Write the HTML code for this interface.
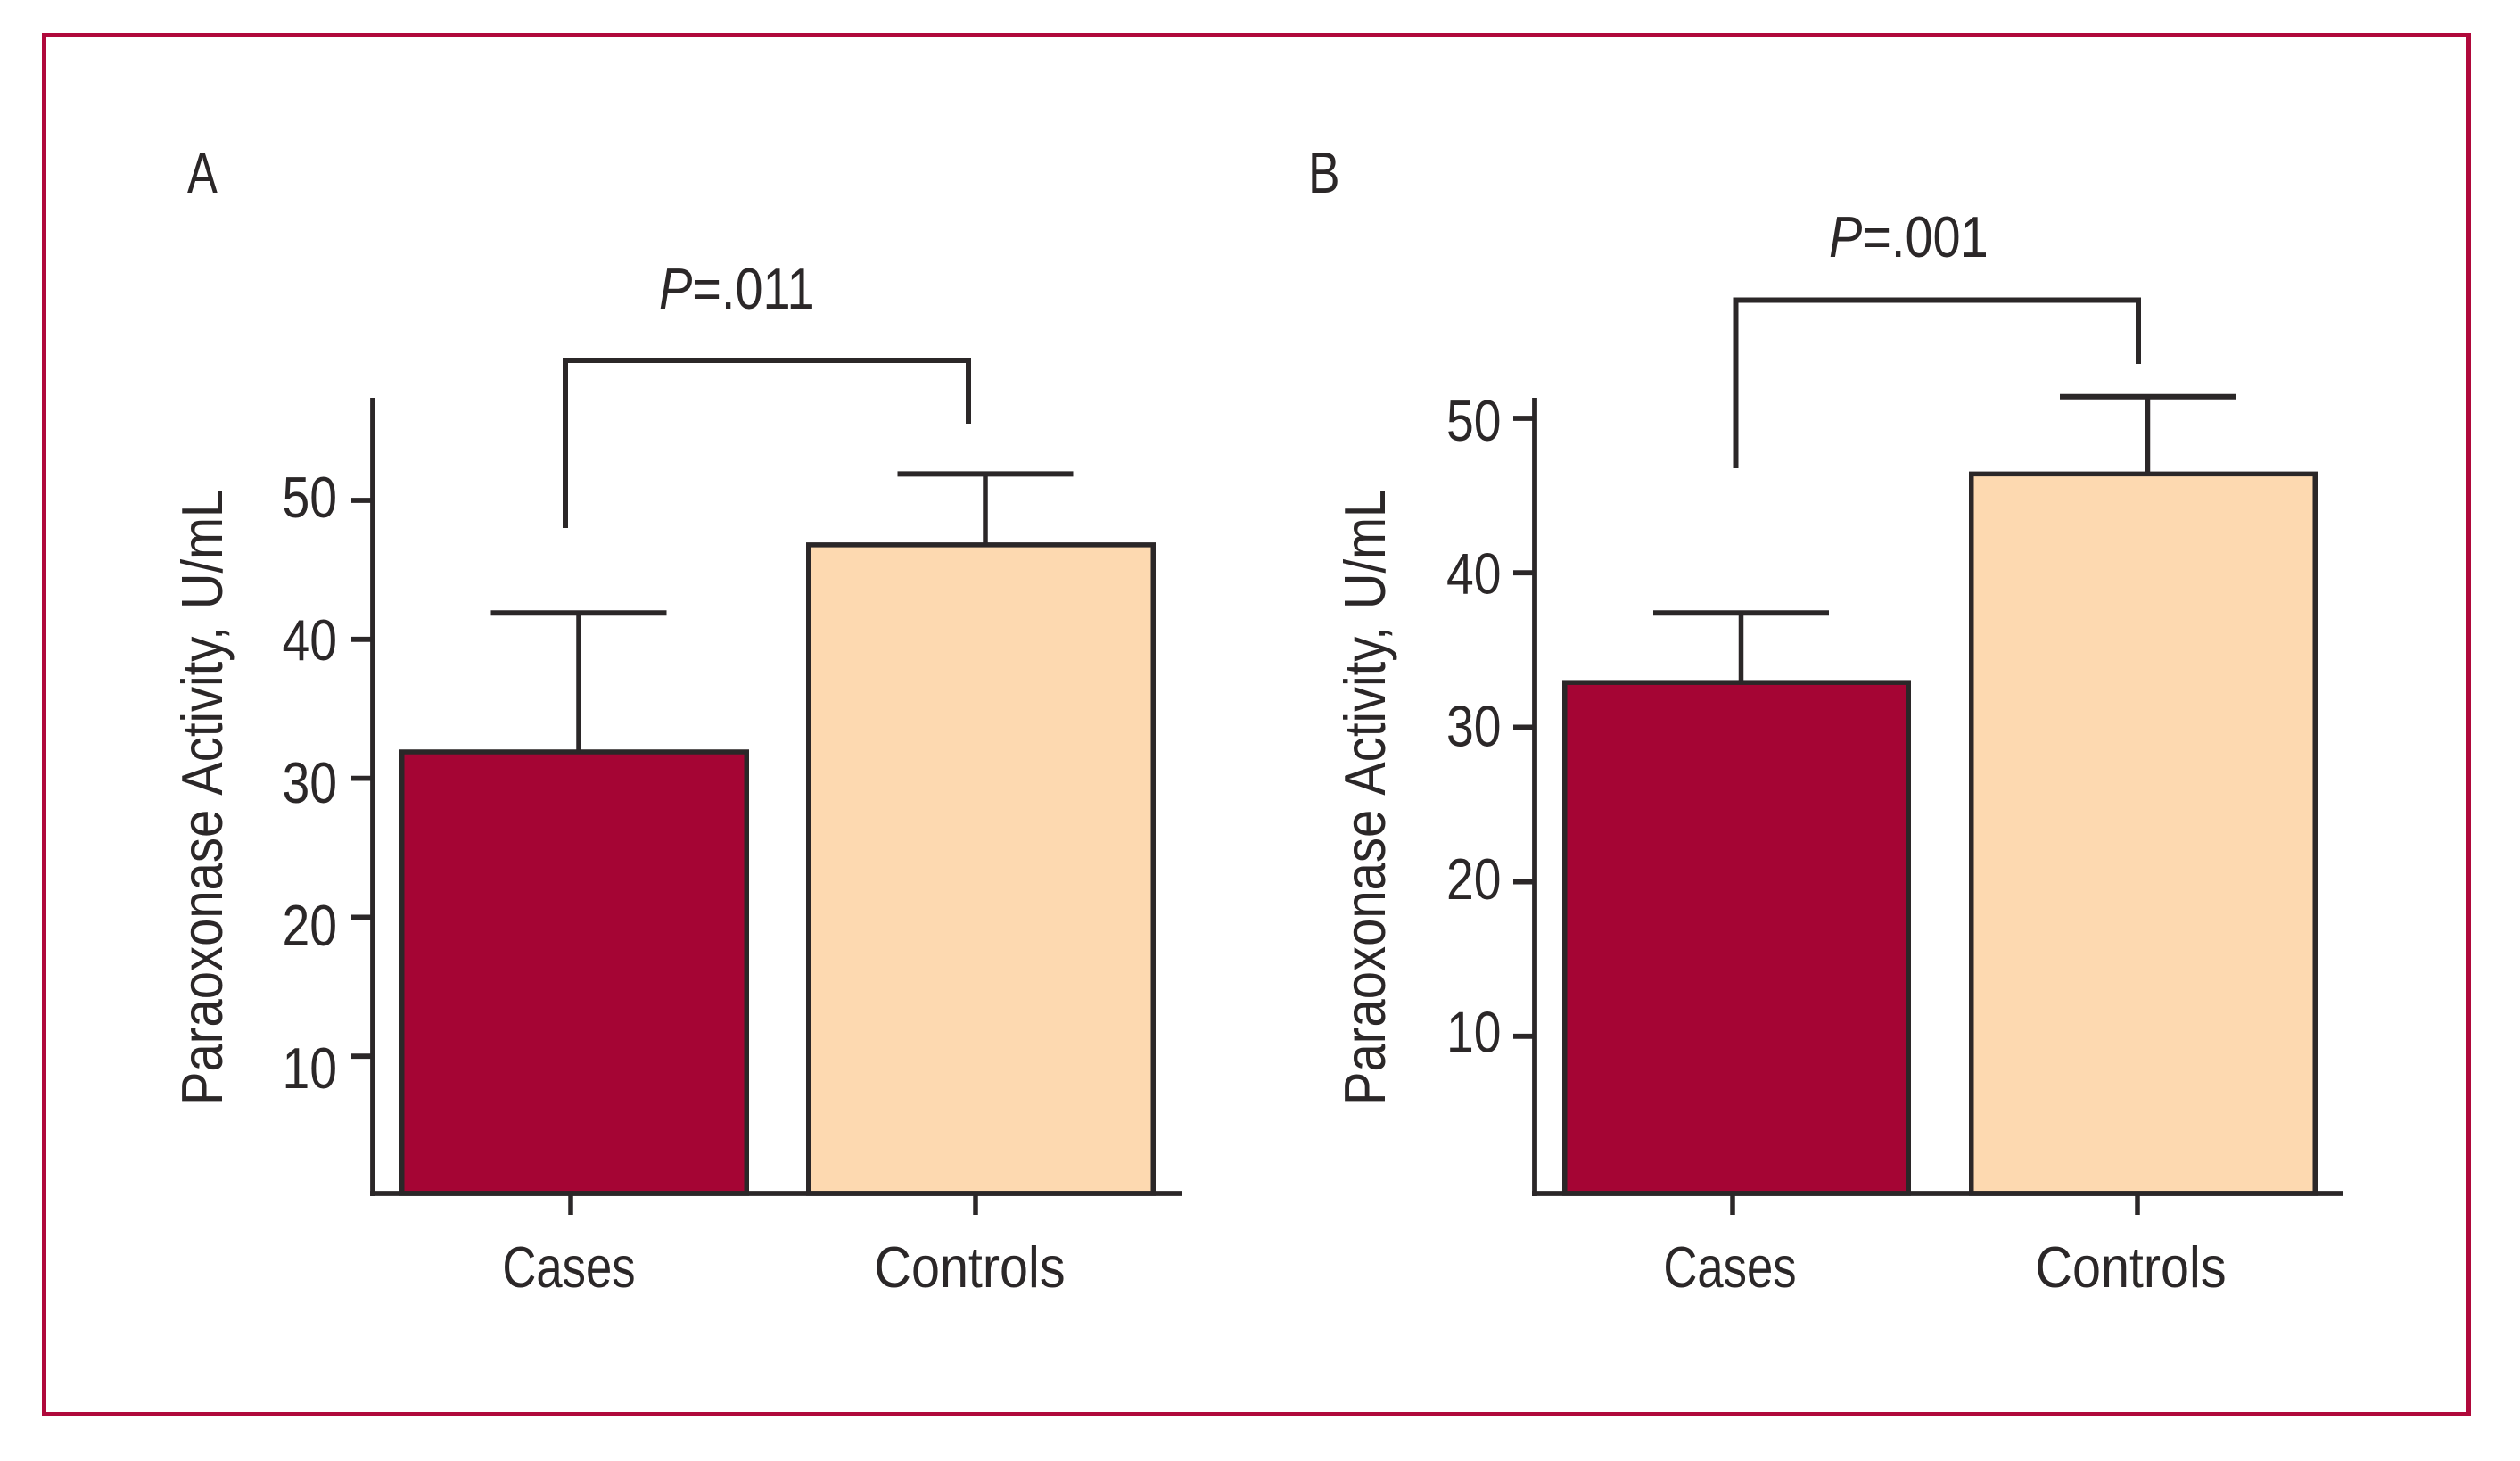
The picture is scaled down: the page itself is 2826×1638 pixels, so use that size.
<!DOCTYPE html>
<html lang="en">
<head>
<meta charset="utf-8">
<title>Paraoxonase Activity in Cases and Controls</title>
<style>
  html, body { margin: 0; padding: 0; background: #fff; }
  svg { display: block; }
  text { font-family: "Liberation Sans", sans-serif; font-size: 65px; fill: #2b2728; }
</style>
</head>
<body>
<svg id="figure" xmlns="http://www.w3.org/2000/svg" width="2826" height="1638" viewBox="0 0 2826 1638">
  <rect x="0" y="0" width="2826" height="1638" fill="#ffffff"/>
  <rect x="49.5" y="39.5" width="2719" height="1546" fill="none" stroke="#b0093b" stroke-width="5"/>

  <text transform="translate(210 216) scale(0.78 1)">A</text>
  <text transform="translate(1467 216) scale(0.82 1)">B</text>

  <path d="M634 592V404H1086V475" fill="none" stroke="#2b2728" stroke-width="6"/>
  <path d="M1946.5 525V336.5H2398V408" fill="none" stroke="#2b2728" stroke-width="6"/>

  <text transform="translate(739 346) scale(0.86 1)"><tspan font-style="italic">P</tspan>=.011</text>
  <text transform="translate(2051 288) scale(0.86 1)"><tspan font-style="italic">P</tspan>=.001</text>

  <g id="panel-a"></g>
  <g id="panel-b"></g>
</svg>

<script>
const categories = ["Cases", "Controls"];
const tickValues = [10, 20, 30, 40, 50];
const tickLabels = ["10", "20", "30", "40", "50"];
const yAxisTitle = "Paraoxonase Activity, U/mL";

const panelAMeans = [31.9, 46.8];
const panelAUpperErrors = [41.9, 51.9];
const panelBMeans = [32.9, 46.4];
const panelBUpperErrors = [37.4, 51.4];

const SVG_NS = "http://www.w3.org/2000/svg";
const INK = "#2b2728";
const BAR_COLORS = { Cases: "#a50534", Controls: "#fdd9b0" };
const LABEL_CONDENSE = { Cases: 0.81, Controls: 0.885 };

function svgEl(parent, tag, attrs) {
  const el = document.createElementNS(SVG_NS, tag);
  for (const key in attrs) el.setAttribute(key, attrs[key]);
  parent.appendChild(el);
  return el;
}

function drawPanel(rootId, prefix, means, errors, layout) {
  const root = document.getElementById(rootId);
  const yScale = v => layout.zeroY - layout.unitPx * v;
  const labelBaseline = v => layout.labelZeroY - layout.labelUnitPx * v;

  // bars
  categories.forEach((cat, i) => {
    const outerLeft = layout.barLeft + i * layout.barStep;
    const top = yScale(means[i]);
    const inset = 2.75;

    const stem = svgEl(root, "line", {
      x1: outerLeft + layout.barWidth / 2 + 5, x2: outerLeft + layout.barWidth / 2 + 5,
      y1: top, y2: yScale(errors[i]), stroke: INK, "stroke-width": 5.5
    });
    
    

    const cap = svgEl(root, "line", {
      x1: outerLeft + layout.barWidth / 2 + 5 - 98.5, x2: outerLeft + layout.barWidth / 2 + 5 + 98.5,
      y1: yScale(errors[i]), y2: yScale(errors[i]), stroke: INK, "stroke-width": 6
    });
    
    

    const bar = svgEl(root, "rect", {
      x: outerLeft + inset, y: top,
      width: layout.barWidth - 2 * inset, height: layout.axisY - top,
      fill: BAR_COLORS[cat], stroke: INK, "stroke-width": 5.5
    });
    
    

    const xTick = svgEl(root, "line", {
      x1: layout.xTick + i * layout.xTickStep, x2: layout.xTick + i * layout.xTickStep,
      y1: layout.axisY, y2: 1362, stroke: INK, "stroke-width": 5.5
    });
    
    

    const xLabel = svgEl(root, "text", {
      transform: "translate(" + (layout.xLabel + i * layout.xLabelStep) + " 1443) scale(" + LABEL_CONDENSE[cat] + " 1)",
      "text-anchor": "middle"
    });
    xLabel.textContent = cat;
    
    
  });

  // axes
  const yAxis = svgEl(root, "line", {
    x1: layout.axisX, x2: layout.axisX, y1: 446, y2: layout.axisY + 3, stroke: INK, "stroke-width": 5.8
  });
  
  

  const xAxis = svgEl(root, "line", {
    x1: layout.axisX - 3, x2: layout.axisEnd, y1: layout.axisY, y2: layout.axisY, stroke: INK, "stroke-width": 5.8
  });
  
  

  // y ticks and labels
  tickValues.forEach((v, i) => {
    const tick = svgEl(root, "line", {
      x1: layout.axisX - 24, x2: layout.axisX, y1: yScale(v), y2: yScale(v), stroke: INK, "stroke-width": 5.8
    });
    
    

    const label = svgEl(root, "text", {
      transform: "translate(" + layout.tickLabelX + " " + labelBaseline(v) + ") scale(0.85 1)",
      "text-anchor": "end"
    });
    label.textContent = tickLabels[i];
    
    
  });

  // y axis title
  const title = svgEl(root, "text", {
    transform: "translate(" + layout.titleX + " 1239) rotate(-90) scale(0.865 1)",
    "word-spacing": "4"
  });
  title.textContent = yAxisTitle;
  
  
}

drawPanel("panel-a", "a", panelAMeans, panelAUpperErrors, {
  zeroY: 1340, unitPx: 15.58, labelZeroY: 1380, labelUnitPx: 16,
  axisX: 418, axisY: 1338, axisEnd: 1325,
  barLeft: 448, barStep: 456, barWidth: 392,
  xTick: 640, xTickStep: 454, xLabel: 638, xLabelStep: 449.5,
  tickLabelX: 378, titleX: 249
});

drawPanel("panel-b", "b", panelBMeans, panelBUpperErrors, {
  zeroY: 1335, unitPx: 17.32, labelZeroY: 1350.9, labelUnitPx: 17.14,
  axisX: 1721, axisY: 1338, axisEnd: 2628,
  barLeft: 1752, barStep: 456, barWidth: 391,
  xTick: 1943, xTickStep: 454, xLabel: 1940, xLabelStep: 449.5,
  tickLabelX: 1683.5, titleX: 1553
});
</script>
</body>
</html>
